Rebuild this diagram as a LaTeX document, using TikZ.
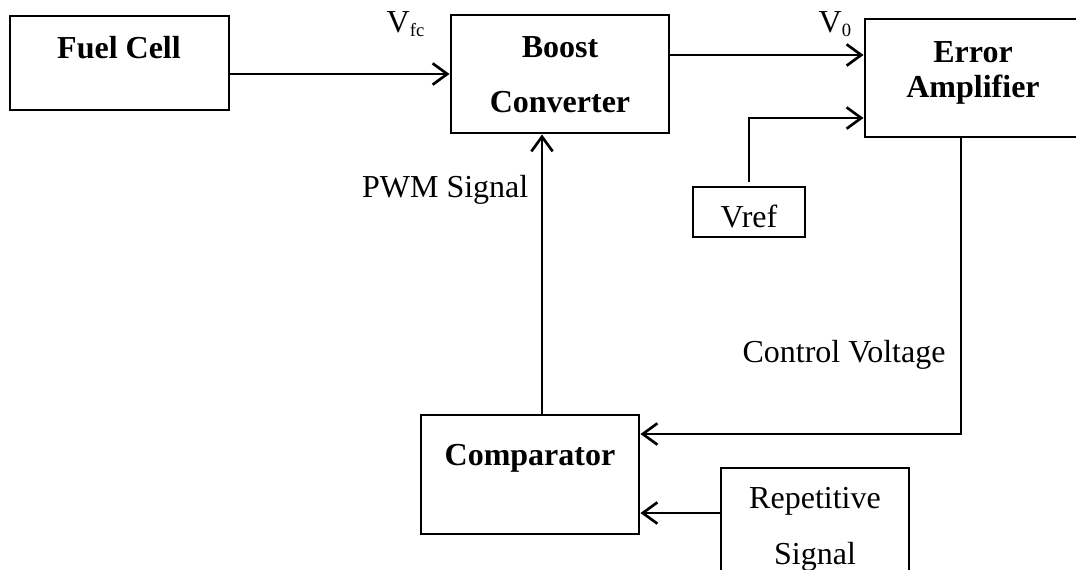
\documentclass[tikz,border=0pt]{standalone}
\usepackage{fontspec}
\setmainfont{Liberation Serif}
\usetikzlibrary{positioning, fit, calc, arrows.meta}

\newcommand{\bigtext}{\fontsize{24}{29}\selectfont}
\newcommand{\lowidx}[1]{\raisebox{-3.5pt}{\fontsize{14}{14}\selectfont #1}}

\tikzset{
  block/.style={draw, line width=2.2pt, inner sep=0pt},
  thinblock/.style={draw, line width=1pt, inner sep=0pt},
  title/.style={font=\bigtext\bfseries, anchor=base},
  arrow/.style={line width=2.2pt, -{Straight Barb[length=11pt, width=16pt, line width=2pt]}}
}

\begin{document}
\begin{tikzpicture}[x=0.75pt, y=-0.75pt, font=\bigtext]

% Frame of the picture
\useasboundingbox (0,0) rectangle (1076,569);
\clip (0,0) rectangle (1076,569);

% Blocks
\node[block, fit={(10,16) (229,110)}] (fuel) {};
\node[block, fit={(451,15) (669,133)}] (boost) {};
\node[block, fit={(865,19) (1082,137)}] (amp) {};
\node[block, fit={(421,415) (639,534)}] (comp) {};
\node[thinblock, fit={(693,187) (805,237)}] (vref) {};
\node[thinblock, fit={(721,468) (909,620)}] (rep) {};

% Block texts
\node[title] (fueltxt) at (119,58) {Fuel Cell};
\node[title] (boosttxt) at (560,57) {Boost};
\node[title] (convtxt) at (560,112) {Converter};
\node[title] (errtxt) at (973,62) {Error};
\node[title] (amptxt) at (973,97) {Amplifier};
\node[title] (comptxt) at (530,465) {Comparator};
\node[anchor=base] (vreftxt) at (749,227) {Vref};
\node[anchor=base] (reptxt) at (815,508) {Repetitive};
\node[anchor=base] (sigtxt) at (815,564) {Signal};

% Signal levels
\coordinate (vout) at (760,55);
\coordinate (vin) at (800,118);
\coordinate (ctrl) at (961,434);
\coordinate (repin) at (680,513);
\coordinate (pwm) at (542,300);

% Connections
\draw[arrow] (fuel.east |- boost.west) -- (boost.west);
\draw[arrow] (boost.east |- vout) -- (amp.west |- vout);
\draw[arrow, shorten <=3.5pt] (vref.north) |- (amp.west |- vin);
\draw[arrow] (amp.south -| ctrl) -- (ctrl) -- (comp.east |- ctrl);
\draw[arrow] (rep.west |- repin) -- (comp.east |- repin);
\draw[arrow] (comp.north -| pwm) -- (boost.south -| pwm);

% Signal labels
\node[anchor=base west] (vfc) at (382,32) {V\lowidx{fc}};
\node[anchor=base west] (vo) at (814,32) {V\lowidx{0}};
\node[anchor=base east] (pwmlbl) at (533,197) {PWM Signal};
\node[anchor=base] (ctrllbl) at (844,362) {Control Voltage};

\end{tikzpicture}
\end{document}
